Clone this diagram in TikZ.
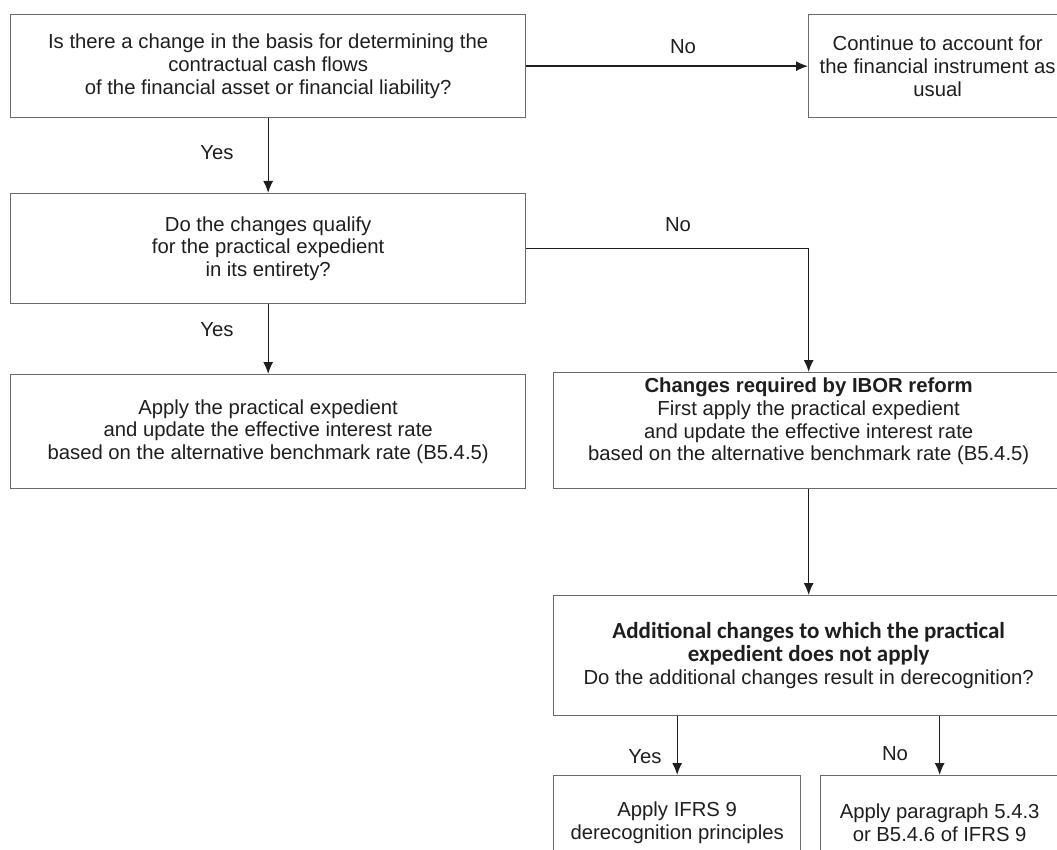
\documentclass[tikz,border=0pt]{standalone}
\usepackage{fontspec}
\setmainfont{Liberation Sans}
\newfontfamily\calibrifont{Carlito}
\usepackage{tikz}
\usetikzlibrary{arrows.meta}
\usetikzlibrary{positioning}
\definecolor{boxgray}{HTML}{6A6A6A}
\definecolor{inkgray}{HTML}{1E1E1E}
\tikzset{
    box_node/.style = {rectangle, draw=boxgray, line width=1.3pt, align=center, inner sep=0pt, anchor=north west, text=inkgray, font=\fontsize{20.3}{22.8}\selectfont},
    lbl_node/.style = {align=center, inner sep=0pt, text=inkgray, font=\fontsize{20.3}{22.8}\selectfont},
    flow/.style = {->, draw=inkgray, line width=1.3pt}
}

\begin{document}
\begin{tikzpicture}
            [x=1pt, y=-1pt, >={Latex[length=12pt, width=10pt]}]

            \useasboundingbox (0,0) rectangle (1057,850);

            \node [box_node, minimum width=515pt, minimum height=103pt] (basis) at (10,14)
                {Is there a change in the basis for determining the\\contractual cash flows\\of the financial asset or financial liability?};
            \node [box_node, minimum width=258pt, minimum height=103pt] (usual) at (808,14)
                {Continue to account for\\the financial instrument as\\usual};
            \node [box_node, minimum width=515pt, minimum height=110pt] (qualify) at (10,193)
                {Do the changes qualify\\for the practical expedient\\in its entirety?};
            \node [box_node, minimum width=515pt, minimum height=114pt] (expedient) at (10,374)
                {Apply the practical expedient\\and update the effective interest rate\\based on the alternative benchmark rate (B5.4.5)};
            \node [box_node, minimum width=510pt, minimum height=116pt] (ibor) at (553,372)
                {\textbf{Changes required by IBOR reform}\\First apply the practical expedient\\and update the effective interest rate\\based on the alternative benchmark rate (B5.4.5)\\~};
            \node [box_node, minimum width=510pt, minimum height=120pt] (additional) at (553,595)
                {{\calibrifont\bfseries\fontsize{23}{21.5}\selectfont Additional changes to which the practical}\\{\calibrifont\bfseries\fontsize{23}{21.5}\selectfont expedient does not apply}\\Do the additional changes result in derecognition?};
            \node [box_node, minimum width=247pt, minimum height=94pt] (derecog) at (553,775)
                {Apply IFRS 9\\derecognition principles};
            \node [box_node, minimum width=238pt, minimum height=94pt] (para) at (820,775)
                {Apply paragraph 5.4.3\\or B5.4.6 of IFRS 9};

            \node [lbl_node] (no_a) at (683,47) {No};
            \node [lbl_node] (yes_a) at (217,153) {Yes};
            \node [lbl_node] (no_b) at (678,225) {No};
            \node [lbl_node] (yes_b) at (217,330) {Yes};
            \node [lbl_node] (yes_c) at (645,757) {Yes};
            \node [lbl_node] (no_c) at (895,754) {No};

            \draw [flow] (basis.east) -- (usual.west);
            \draw [flow] (basis.south) -- (qualify.north);
            \draw [flow] (qualify.east) -| (ibor.north);
            \draw [flow] (qualify.south) -- (expedient.north);
            \draw [flow] (ibor.south) -- (additional.north);
            \draw [flow] (derecog.north |- additional.south) -- (derecog.north);
            \draw [flow] (para.north |- additional.south) -- (para.north);
        \end{tikzpicture}
\end{document}
